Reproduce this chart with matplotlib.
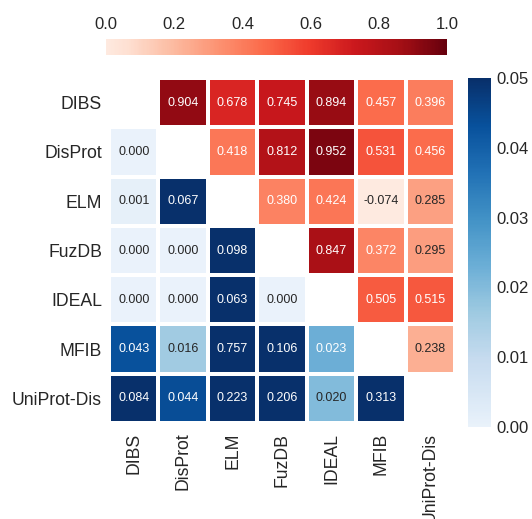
import numpy as np
import matplotlib
matplotlib.use('Agg')
import matplotlib.pyplot as plt
from matplotlib.colors import LinearSegmentedColormap, Normalize

plt.rcParams['font.family'] = ['Liberation Sans', 'DejaVu Sans']

## DATA
labels = ['DIBS', 'DisProt', 'ELM', 'FuzDB', 'IDEAL', 'MFIB', 'UniProt-Dis']

# upper triangle (row i, columns i+1 ... end)
upper_rows = [
    [0.904, 0.678, 0.745, 0.894, 0.457, 0.396],
    [0.418, 0.812, 0.952, 0.531, 0.456],
    [0.380, 0.424, -0.074, 0.285],
    [0.847, 0.372, 0.295],
    [0.505, 0.515],
    [0.238],
]

# lower triangle (row i, columns 0 ... i-1)
lower_rows = [
    [0.000],
    [0.001, 0.067],
    [0.000, 0.000, 0.098],
    [0.000, 0.000, 0.063, 0.000],
    [0.043, 0.016, 0.757, 0.106, 0.023],
    [0.084, 0.044, 0.223, 0.206, 0.020, 0.313],
]

red_ticks = [0.0, 0.2, 0.4, 0.6, 0.8, 1.0]
blue_ticks = [0.00, 0.01, 0.02, 0.03, 0.04, 0.05]

n = len(labels)
upper = np.full((n, n), np.nan)
lower = np.full((n, n), np.nan)
for i, row in enumerate(upper_rows):
    upper[i, i + 1:] = row
for i, row in enumerate(lower_rows):
    lower[i + 1, :i + 1] = row

## colour maps (light end slightly tinted like the reference)
reds = LinearSegmentedColormap.from_list('reds_t', plt.get_cmap('Reds')(np.linspace(0.07, 1, 256)))
blues = LinearSegmentedColormap.from_list('blues_t', plt.get_cmap('Blues')(np.linspace(0.07, 1, 256)))
red_norm = Normalize(0, 1)
blue_norm = Normalize(0, 0.05)


def text_color(rgba):
    # same rule seaborn uses for annotations
    rgb = np.array(rgba[:3])
    rgb = np.where(rgb <= .03928, rgb / 12.92, ((rgb + .055) / 1.055) ** 2.4)
    lum = rgb.dot([.2126, .7152, .0722])
    return '.15' if lum > .408 else 'w'


fig = plt.figure(figsize=(5.32, 5.19), dpi=100)
W, H = 532, 519
ax = fig.add_axes((109 / W, 1 - 423 / H, 346 / W, 345 / H))
cax_top = fig.add_axes((106 / W, 1 - 55 / H, 341 / W, 16 / H))
cax_right = fig.add_axes((468 / W, 1 - 427 / H, 23 / W, 349 / H))

m_red = ax.pcolormesh(np.ma.masked_invalid(upper), cmap=reds, norm=red_norm,
                      edgecolors='white', linewidth=1.5)
m_blue = ax.pcolormesh(np.ma.masked_invalid(lower), cmap=blues, norm=blue_norm,
                       edgecolors='white', linewidth=1.5)

for i in range(n):
    for j in range(n):
        if not np.isnan(upper[i, j]):
            v, c = upper[i, j], reds(red_norm(upper[i, j]))
        elif not np.isnan(lower[i, j]):
            v, c = lower[i, j], blues(blue_norm(lower[i, j]))
        else:
            continue
        ax.text(j + 0.5, i + 0.5, '{:.3f}'.format(v), ha='center', va='center',
                fontsize=9, color=text_color(c))

ax.set_xlim(0, n)
ax.set_ylim(n, 0)
ax.set_xticks(np.arange(n) + 0.5)
ax.set_yticks(np.arange(n) + 0.5)
ax.set_xticklabels(labels, rotation=90)
ax.set_yticklabels(labels)
ax.tick_params(length=0, labelsize=12.7, labelcolor='.15')
ax.tick_params(axis='y', pad=5)
ax.tick_params(axis='x', pad=7)
for s in ax.spines.values():
    s.set_visible(False)

## horizontal colour bar on top
cb1 = fig.colorbar(m_red, cax=cax_top, orientation='horizontal', ticks=red_ticks)
cb1.outline.set_visible(False)
cax_top.xaxis.set_ticks_position('top')
cax_top.set_xticklabels(['{:.1f}'.format(t) for t in red_ticks])
cax_top.tick_params(length=0, labelsize=12, labelcolor='.15', pad=5)

## vertical colour bar on the right
cb2 = fig.colorbar(m_blue, cax=cax_right, ticks=blue_ticks)
cb2.outline.set_visible(False)
cax_right.set_yticklabels(['{:.2f}'.format(t) for t in blue_ticks])
cax_right.tick_params(length=0, labelsize=12, labelcolor='.15', pad=4)

fig.savefig('out.png', dpi=100)
